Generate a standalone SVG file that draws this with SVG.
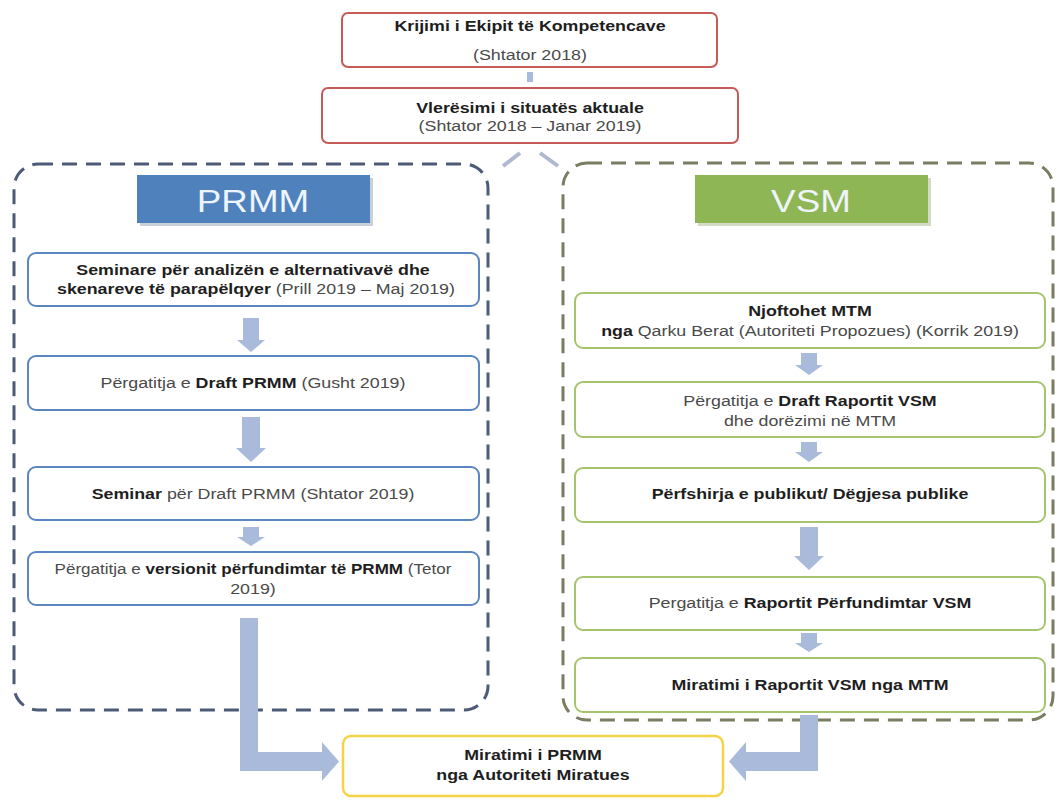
<svg xmlns="http://www.w3.org/2000/svg" width="1060" height="801" viewBox="0 0 1060 801">
<defs>
<style>
text{font-family:"Liberation Sans",Arial,sans-serif;font-size:15.5px;fill:#4a4a4a;text-anchor:middle;transform:scaleX(1.15);transform-box:fill-box;transform-origin:center}
.b{font-weight:bold;fill:#1e1e1e}
.n{font-weight:normal;fill:#4a4a4a}
.red{fill:#fff;stroke:#c65a57;stroke-width:2}
.blue{fill:#fff;stroke:#5b86c2;stroke-width:2}
.green{fill:#fff;stroke:#a6c46e;stroke-width:2}
.yel{fill:#fff;stroke:#f3d448;stroke-width:2.5}
.arr{fill:#a9badb}
.hdr{font-size:32px;fill:#eef4fb}
</style>
</defs>
<rect width="1060" height="801" fill="#fff"/>

<g id="containers">
<rect x="14" y="164" width="474" height="546" rx="24" fill="none" stroke="#4d5b78" stroke-width="3" stroke-dasharray="15 9"/>
<rect x="563" y="163" width="490" height="557" rx="24" fill="none" stroke="#7a7d62" stroke-width="3" stroke-dasharray="15 9"/>
</g>

<g id="connectors">
<rect class="arr" x="527" y="72" width="6" height="10"/>
<line x1="520" y1="153" x2="503" y2="166" stroke="#b0b8d0" stroke-width="4"/>
<line x1="540" y1="153" x2="558" y2="166" stroke="#b0b8d0" stroke-width="4"/>
<polygon class="arr" points="243,318 259,318 259,340 265,340 251,352 237,340 243,340"/>
<polygon class="arr" points="242,417 260,417 260,448 266,448 251,462 236,448 242,448"/>
<polygon class="arr" points="243,527 259,527 259,537 265,537 251,546 237,537 243,537"/>
<polygon class="arr" points="240,618 258,618 258,752 322,752 322,742 339,761.5 322,781 322,771 240,771"/>
<polygon class="arr" points="801,353 817,353 817,365 823,365 809,375 795,365 801,365"/>
<polygon class="arr" points="801,442 817,442 817,452 823,452 809,462 795,452 801,452"/>
<polygon class="arr" points="800,527 818,527 818,556 824,556 809,570 794,556 800,556"/>
<polygon class="arr" points="801,633 817,633 817,643 823,643 809,652 795,643 801,643"/>
<polygon class="arr" points="800,715 818,715 818,771 746,771 746,781 729,761.5 746,742 746,752 800,752"/>
</g>

<g id="n-krijimi">
<rect class="red" x="342" y="13" width="375" height="54" rx="6"/>
<text x="530" y="31" class="b">Krijimi i Ekipit të Kompetencave</text>
<text x="530" y="60">(Shtator 2018)</text>
</g>
<g id="n-vleresimi">
<rect class="red" x="322" y="88" width="416" height="55" rx="6"/>
<text x="530" y="113" class="b">Vlerësimi i situatës aktuale</text>
<text x="530" y="131">(Shtator 2018 – Janar 2019)</text>
</g>

<g id="h-prmm">
<rect x="140" y="178" width="233" height="48" fill="#c9cfd8"/>
<rect x="137" y="175" width="233" height="48" fill="#4f81bd"/>
<text x="253" y="212" class="hdr">PRMM</text>
</g>
<g id="h-vsm">
<rect x="698" y="178" width="233" height="48" fill="#d3dac5"/>
<rect x="695" y="175" width="233" height="48" fill="#8fb654"/>
<text x="811" y="212" class="hdr">VSM</text>
</g>

<g id="l1">
<rect class="blue" x="28" y="253" width="451" height="53" rx="8"/>
<text x="253" y="275" class="b">Seminare për analizën e alternativavë dhe</text>
<text x="256" y="294"><tspan class="b">skenareve të parapëlqyer</tspan> (Prill 2019 – Maj 2019)</text>
</g>
<g id="l2">
<rect class="blue" x="28" y="356" width="451" height="54" rx="8"/>
<text x="253" y="388">Përgatitja e <tspan class="b">Draft PRMM</tspan> (Gusht 2019)</text>
</g>
<g id="l3">
<rect class="blue" x="28" y="467" width="451" height="53" rx="8"/>
<text x="253" y="499"><tspan class="b">Seminar</tspan> për Draft PRMM  (Shtator 2019)</text>
</g>
<g id="l4">
<rect class="blue" x="28" y="552" width="451" height="53" rx="8"/>
<text x="253" y="574" style="transform:scaleX(1.1)">Përgatitja e <tspan class="b">versionit përfundimtar të PRMM</tspan> (Tetor</text>
<text x="253" y="594">2019)</text>
</g>

<g id="r1">
<rect class="green" x="575" y="293" width="470" height="55" rx="8"/>
<text x="810" y="316" class="b">Njoftohet MTM</text>
<text x="810" y="336"><tspan class="b">nga</tspan> Qarku Berat (Autoriteti Propozues) (Korrik 2019)</text>
</g>
<g id="r2">
<rect class="green" x="575" y="382" width="470" height="55" rx="8"/>
<text x="810" y="406">Përgatitja e <tspan class="b">Draft Raportit VSM</tspan></text>
<text x="810" y="426">dhe dorëzimi në MTM</text>
</g>
<g id="r3">
<rect class="green" x="575" y="468" width="470" height="54" rx="8"/>
<text x="810" y="499" class="b">Përfshirja e publikut/ Dëgjesa publike</text>
</g>
<g id="r4">
<rect class="green" x="575" y="577" width="470" height="53" rx="8"/>
<text x="810" y="608">Pergatitja e <tspan class="b">Raportit Përfundimtar VSM</tspan></text>
</g>
<g id="r5">
<rect class="green" x="575" y="658" width="470" height="54" rx="8"/>
<text x="810" y="690" class="b">Miratimi i Raportit VSM nga MTM</text>
</g>

<g id="n-miratimi">
<rect class="yel" x="343" y="736" width="380" height="60" rx="8"/>
<text x="533" y="760" class="b">Miratimi i PRMM</text>
<text x="533" y="780" class="b">nga Autoriteti Miratues</text>
</g>
</svg>
